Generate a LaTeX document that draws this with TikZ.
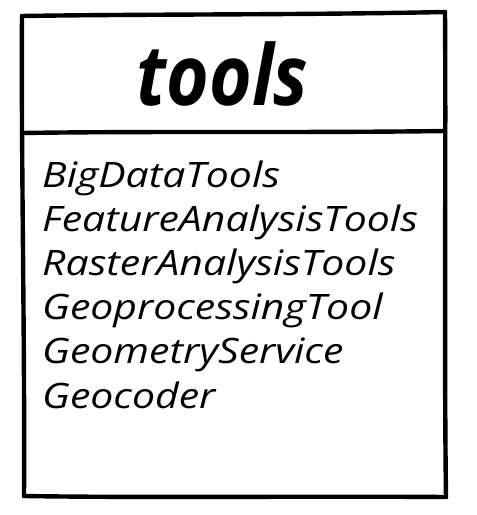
\documentclass[tikz,border=0pt]{standalone}
\usepackage{fontspec}
\setmainfont{Open Sans}
\newcommand{\titletext}[1]{\scalebox{0.87}[1]{#1}}
\newcommand{\membertext}[1]{\scalebox{1.17}[1]{#1}}
\begin{document}
\begin{tikzpicture}[x=1pt,y=-1pt,
  edge/.style={line width=4.4pt,line cap=round,line join=round},
  title/.style={inner sep=0pt,anchor=base,font=\fontsize{84}{84}\selectfont\bfseries\itshape},
  member/.style={inner sep=0pt,anchor=base west,font=\fontsize{35}{35}\selectfont\itshape}]
\useasboundingbox (0,0) rectangle (477,515);
\coordinate (tl) at (22,16);
\coordinate (tr) at (445,12);
\coordinate (dl) at (22,133);
\coordinate (dr) at (445,131);
\coordinate (bl) at (24,496);
\coordinate (br) at (446,497);
\draw[edge] (tl) .. controls (150,14) and (300,15) .. (tr);
\draw[edge] (tl) .. controls (21,150) and (25,350) .. (bl);
\draw[edge] (tr) .. controls (446,150) and (444,350) .. (br);
\draw[edge] (dl) .. controls (150,131) and (300,133) .. (dr);
\draw[edge] (bl) .. controls (150,498) and (300,496) .. (br);
\node[title] (name) at (222.5,105) {\titletext{tools}};
\node[member] (m1) at (42,187) {\membertext{BigDataTools}};
\node[member] (m2) at (42,231.2) {\membertext{FeatureAnalysisTools}};
\node[member] (m3) at (42,275.4) {\membertext{RasterAnalysisTools}};
\node[member] (m4) at (42,319.6) {\membertext{GeoprocessingTool}};
\node[member] (m5) at (42,363.8) {\membertext{GeometryService}};
\node[member] (m6) at (42,408) {\membertext{Geocoder}};
\end{tikzpicture}
\end{document}
